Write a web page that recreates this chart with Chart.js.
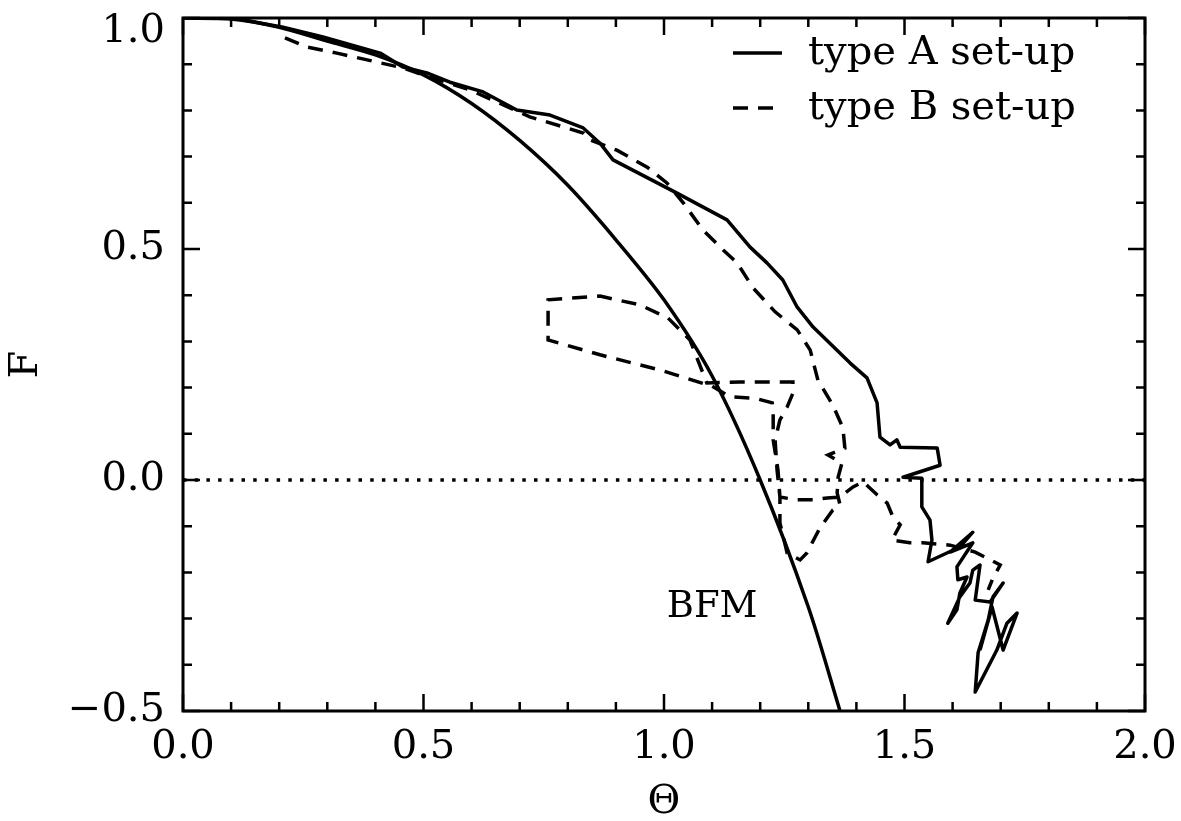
<!DOCTYPE html>
<html>
<head>
<meta charset="utf-8">
<script src="https://cdn.jsdelivr.net/npm/chart.js@4.4.1/dist/chart.umd.min.js"></script>
<style>
  html, body { margin: 0; padding: 0; background: #fff; }
  #wrap { width: 1181px; height: 821px; }
</style>
</head>
<body>
<div id="wrap"><canvas id="chart"></canvas></div>
<script>
// axis ticks
const xTickValues = [0, 0.5, 1.0, 1.5, 2.0]
const xTickLabels = ['0.0', '0.5', '1.0', '1.5', '2.0']
const yTickValues = [-0.5, 0, 0.5, 1.0]
const yTickLabels = ['\u22120.5', '0.0', '0.5', '1.0']

// BFM model curve
const bfmTheta = [0, 0.1, 0.2, 0.3, 0.4, 0.5, 0.6, 0.7, 0.8, 0.9, 1.0, 1.1, 1.2, 1.3, 1.366]
const bfmF = [1.0, 0.998, 0.98, 0.95, 0.92, 0.877, 0.815, 0.735, 0.638, 0.52, 0.39, 0.225, 0.0, -0.275, -0.5]

// type A set-up (solid)
const typeATheta = [0, 0.104, 0.208, 0.291, 0.41, 0.457, 0.507, 0.555, 0.624, 0.694, 0.763, 0.832, 0.867, 0.894,
  1.027, 1.131, 1.179, 1.214, 1.247, 1.277, 1.31, 1.387, 1.422, 1.443, 1.449, 1.47, 1.484, 1.491, 1.568, 1.574,
  1.497, 1.536, 1.536, 1.553, 1.557, 1.549, 1.615, 1.642, 1.595, 1.642, 1.609, 1.611, 1.63, 1.615, 1.609, 1.59,
  1.615, 1.636, 1.642, 1.657, 1.647, 1.678, 1.705, 1.684, 1.674, 1.653, 1.647, 1.692, 1.713, 1.734, 1.705, 1.682, 1.657]
const typeAF = [1.0, 1.0, 0.98, 0.959, 0.924, 0.894, 0.881, 0.861, 0.84, 0.801, 0.79, 0.762, 0.729, 0.693,
  0.621, 0.563, 0.504, 0.47, 0.433, 0.374, 0.331, 0.253, 0.221, 0.167, 0.093, 0.076, 0.087, 0.071, 0.069, 0.032,
  0.006, 0.004, -0.058, -0.087, -0.13, -0.177, -0.145, -0.113, -0.156, -0.136, -0.188, -0.216, -0.21, -0.245, -0.281, -0.31,
  -0.253, -0.223, -0.195, -0.184, -0.26, -0.264, -0.223, -0.253, -0.303, -0.374, -0.459, -0.368, -0.31, -0.288, -0.368, -0.275, -0.368]

// type B set-up (dashed)
const typeBTheta = [0.212, 0.258, 0.32, 0.41, 0.457, 0.499, 0.597, 0.721, 0.798, 0.832, 0.846, 0.902, 0.965, 1.006,
  1.04, 1.081, 1.123, 1.152, 1.185, 1.231, 1.277, 1.304, 1.32, 1.351, 1.372, 1.376, 1.341, 1.37, 1.362, 1.36,
  1.366, 1.351, 1.324, 1.297, 1.283, 1.256, 1.241, 1.241, 1.237, 1.227, 1.227, 1.225, 1.189, 1.137, 1.1, 0.992,
  0.867, 0.759, 0.759, 0.867, 0.95, 1.008, 1.054, 1.089, 1.158, 1.235, 1.268, 1.268, 1.256, 1.241, 1.231, 1.235,
  1.241, 1.277, 1.31, 1.339, 1.366, 1.393, 1.414, 1.443, 1.464, 1.476, 1.491, 1.474, 1.511, 1.538, 1.595, 1.647,
  1.699, 1.684, 1.674]
const typeBF = [0.957, 0.937, 0.924, 0.903, 0.892, 0.877, 0.844, 0.786, 0.762, 0.751, 0.736, 0.714, 0.677, 0.643,
  0.6, 0.541, 0.498, 0.47, 0.416, 0.364, 0.325, 0.281, 0.216, 0.162, 0.113, 0.069, 0.054, 0.037, 0.006, -0.028,
  -0.054, -0.065, -0.104, -0.158, -0.173, -0.158, -0.093, -0.037, 0.022, 0.087, 0.145, 0.167, 0.177, 0.18, 0.203, 0.238,
  0.271, 0.303, 0.39, 0.398, 0.379, 0.351, 0.303, 0.21, 0.212, 0.212, 0.212, 0.188, 0.158, 0.13, 0.087, 0.022,
  -0.037, -0.043, -0.043, -0.039, -0.037, -0.015, -0.004, -0.032, -0.05, -0.08, -0.097, -0.13, -0.136, -0.136, -0.141, -0.156,
  -0.184, -0.212, -0.238]

// zero reference line
const zeroTheta = [0, 2.0]
const zeroF = [0, 0]

const FONT = 'DejaVu Serif'
const toXY = (xs, ys) => xs.map((x, i) => ({ x: x, y: ys[i] }))

const frame = {
  id: 'frame',
  afterDatasetsDraw(chart) {
    const { ctx, chartArea: a, scales: { x, y } } = chart
    ctx.save()
    ctx.strokeStyle = '#000'
    ctx.lineWidth = 3
    ctx.strokeRect(a.left, a.top, a.right - a.left, a.bottom - a.top)
    ctx.lineWidth = 2.5
    ctx.beginPath()
    for (let i = 0; i <= 20; i++) {
      const px = x.getPixelForValue(i / 10)
      const len = i % 5 === 0 ? 17 : 9
      ctx.moveTo(px, a.bottom); ctx.lineTo(px, a.bottom - len)
      ctx.moveTo(px, a.top); ctx.lineTo(px, a.top + len)
    }
    for (let i = -5; i <= 10; i++) {
      const py = y.getPixelForValue(i / 10)
      const len = i % 5 === 0 ? 17 : 9
      ctx.moveTo(a.left, py); ctx.lineTo(a.left + len, py)
      ctx.moveTo(a.right, py); ctx.lineTo(a.right - len, py)
    }
    ctx.stroke()

    // BFM label
    ctx.fillStyle = '#000'
    ctx.font = '37px "' + FONT + '"'
    ctx.textAlign = 'center'
    ctx.textBaseline = 'middle'
    ctx.fillText('BFM', x.getPixelForValue(1.1), y.getPixelForValue(-0.275))

    // legend
    const rows = [chart.data.datasets[2], chart.data.datasets[3]]
    ctx.font = '40px "' + FONT + '"'
    ctx.textAlign = 'left'
    ctx.textBaseline = 'alphabetic'
    rows.forEach((ds, i) => {
      const ly = 53 + i * 55
      ctx.lineWidth = 3.5
      ctx.setLineDash(ds.borderDash || [])
      ctx.beginPath()
      ctx.moveTo(733, ly); ctx.lineTo(ds.borderDash ? 775 : 782, ly)
      ctx.stroke()
      ctx.setLineDash([])
      ctx.fillText(ds.label, 808, ly + 11)
    })
    ctx.restore()
  }
}

new Chart(document.getElementById('chart'), {
  type: 'line',
  data: {
    datasets: [
      { label: 'zero', data: toXY(zeroTheta, zeroF), borderColor: '#000', borderWidth: 3.5, borderDash: [3.5, 8.2], pointRadius: 0 },
      { label: 'BFM', data: toXY(bfmTheta, bfmF), borderColor: '#000', borderWidth: 3.5, pointRadius: 0, tension: 0.3 },
      { label: 'type A set-up', data: toXY(typeATheta, typeAF), borderColor: '#000', borderWidth: 3.5, pointRadius: 0, borderJoinStyle: 'round' },
      { label: 'type B set-up', data: toXY(typeBTheta, typeBF), borderColor: '#000', borderWidth: 3.5, borderDash: [15, 10], pointRadius: 0 },
    ]
  },
  options: {
    responsive: true,
    maintainAspectRatio: false,
    animation: false,
    layout: { padding: { top: 18, right: 36, bottom: 0, left: 0 } },
    plugins: { legend: { display: false }, tooltip: { enabled: false } },
    scales: {
      x: {
        type: 'linear', min: 0, max: 2,
        grid: { display: false, drawTicks: false },
        border: { display: false },
        afterBuildTicks: s => { s.ticks = xTickValues.map(v => ({ value: v })) },
        afterFit: s => { s.height = 110; s.paddingLeft = 0; s.paddingRight = 0 },
        ticks: {
          padding: 13, color: '#000', maxRotation: 0,
          font: { family: FONT, size: 40 },
          callback: v => xTickLabels[xTickValues.indexOf(v)]
        },
        title: { display: true, text: 'Θ', color: '#000', font: { family: FONT, size: 40, lineHeight: 0.9 }, padding: { top: 0, bottom: 0 } }
      },
      y: {
        type: 'linear', min: -0.5, max: 1.0,
        grid: { display: false, drawTicks: false },
        border: { display: false },
        afterBuildTicks: s => { s.ticks = yTickValues.map(v => ({ value: v })) },
        afterFit: s => { s.width = 183; s.paddingTop = 0; s.paddingBottom = 0 },
        ticks: {
          padding: 18, color: '#000',
          // the top label sits just below the frame corner, as in the original
          font: c => ({ family: FONT, size: 40, lineHeight: c.index === yTickValues.length - 1 ? '28px' : 1.2 }),
          callback: v => {
            const t = yTickLabels[yTickValues.indexOf(v)]
            return v === 1.0 ? ['', t] : t
          }
        },
        title: { display: true, text: 'F', color: '#000', font: { family: FONT, size: 40 }, padding: { top: 3, bottom: 0 } }
      }
    }
  },
  plugins: [frame]
})
</script>
</body>
</html>
